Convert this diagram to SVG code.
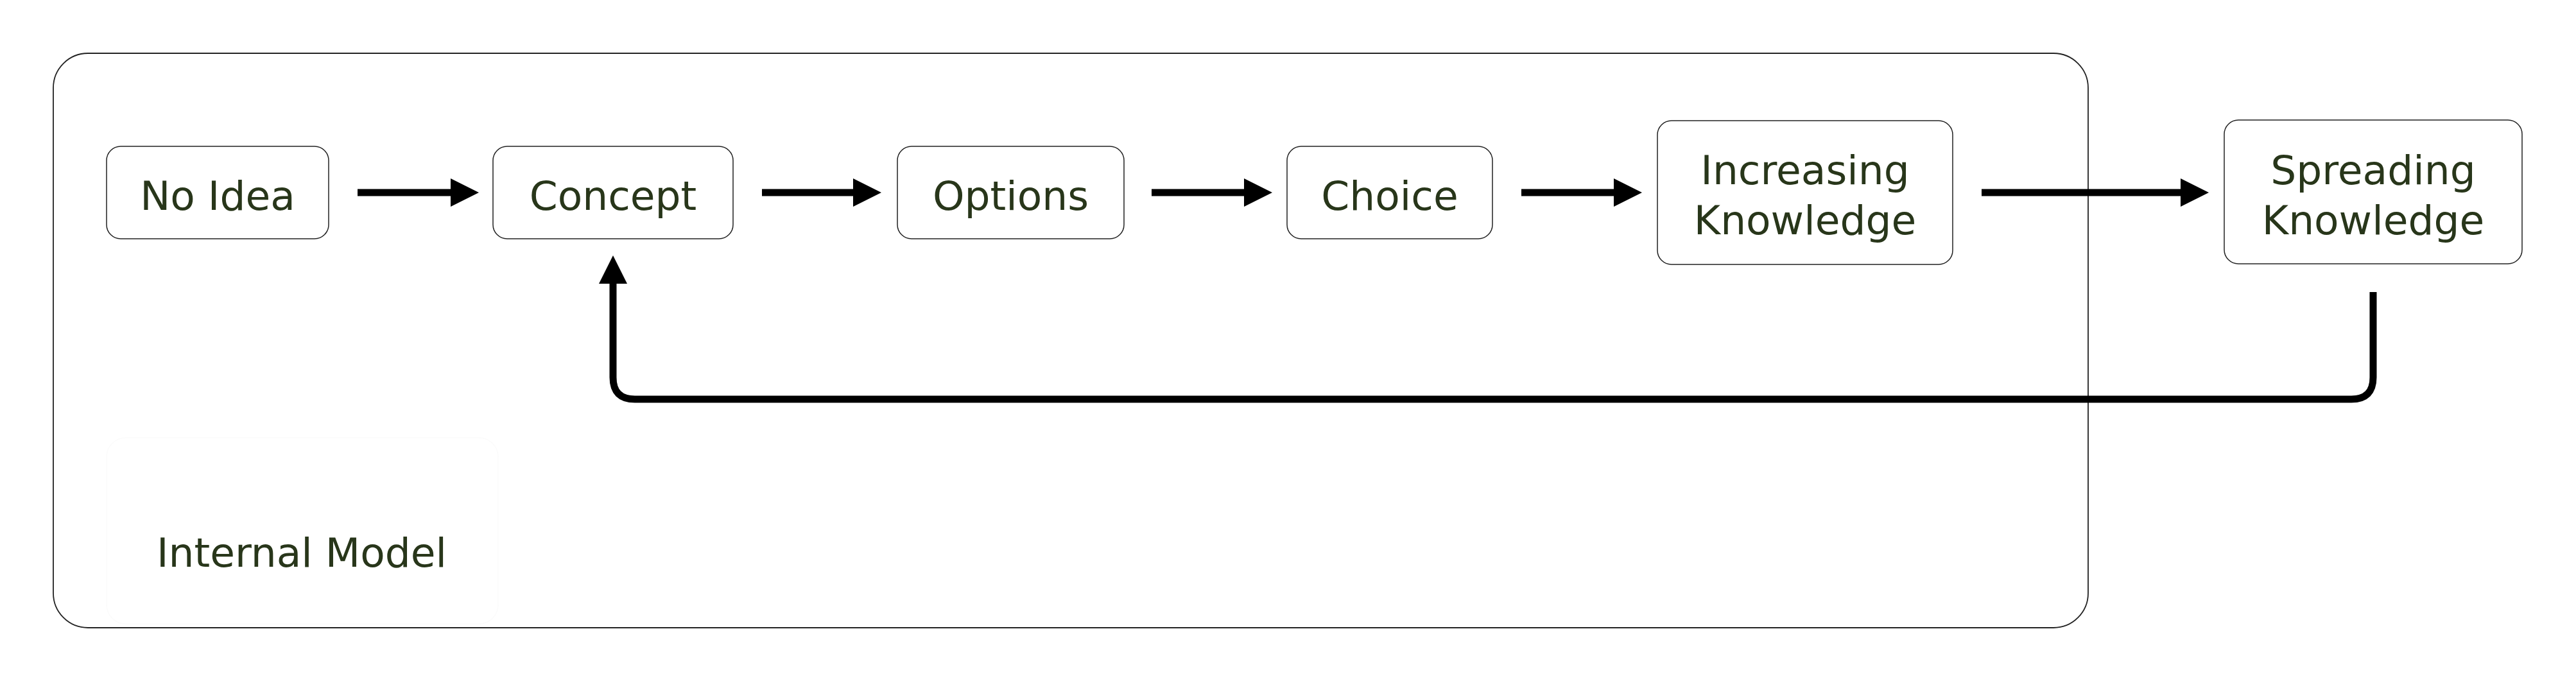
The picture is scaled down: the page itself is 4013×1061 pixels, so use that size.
<svg xmlns="http://www.w3.org/2000/svg" width="4013" height="1061" viewBox="0 0 4013 1061">
  <style>
    .box { fill: #ffffff; stroke: #222222; stroke-width: 1.5; }
    .container { fill: #ffffff; stroke: #222222; stroke-width: 1.8; }
    .lbl { font-family: "DejaVu Sans", "Liberation Sans", sans-serif; font-size: 63px; fill: #28361a; text-anchor: middle; }
    .conn { fill: none; stroke: #000000; stroke-width: 11; }
  </style>
  <defs>
    <marker id="ah" markerUnits="userSpaceOnUse" markerWidth="46" markerHeight="46" viewBox="0 -23 46 46" refX="2" refY="0" orient="auto">
      <path d="M0,-22 L44,0 L0,22 Z" fill="#000000"/>
    </marker>
  </defs>
  <rect width="4013" height="1061" fill="#ffffff"/>

  <g id="internal-model">
    <rect class="container" x="83" y="83" width="3170" height="895" rx="54" ry="54"/>
    <rect x="166" y="682" width="610" height="290" rx="30" ry="30" fill="none" stroke="#fbfbfb" stroke-width="1.5"/>
    <text class="lbl" x="470" y="883">Internal Model</text>
  </g>

  <g id="node-no-idea">
    <rect class="box" x="166" y="228" width="346" height="144" rx="22" ry="22"/>
    <text class="lbl" x="339" y="327">No Idea</text>
  </g>
  <g id="node-concept">
    <rect class="box" x="768" y="228" width="374" height="144" rx="22" ry="22"/>
    <text class="lbl" x="955" y="327">Concept</text>
  </g>
  <g id="node-options">
    <rect class="box" x="1398" y="228" width="353" height="144" rx="22" ry="22"/>
    <text class="lbl" x="1574.5" y="327">Options</text>
  </g>
  <g id="node-choice">
    <rect class="box" x="2005" y="228" width="320" height="144" rx="22" ry="22"/>
    <text class="lbl" x="2165" y="327">Choice</text>
  </g>
  <g id="node-increasing">
    <rect class="box" x="2582" y="188" width="460" height="224" rx="22" ry="22"/>
    <text class="lbl" x="2812" y="287">Increasing</text>
    <text class="lbl" x="2812" y="365">Knowledge</text>
  </g>
  <g id="node-spreading">
    <rect class="box" x="3465" y="187" width="464" height="224" rx="22" ry="22"/>
    <text class="lbl" x="3697" y="287">Spreading</text>
    <text class="lbl" x="3697" y="365">Knowledge</text>
  </g>

  <g id="connectors">
    <line class="conn" x1="557" y1="300" x2="704" y2="300" marker-end="url(#ah)"/>
    <line class="conn" x1="1187" y1="300" x2="1331" y2="300" marker-end="url(#ah)"/>
    <line class="conn" x1="1794" y1="300" x2="1940" y2="300" marker-end="url(#ah)"/>
    <line class="conn" x1="2370" y1="300" x2="2516" y2="300" marker-end="url(#ah)"/>
    <line class="conn" x1="3087" y1="300" x2="3399" y2="300" marker-end="url(#ah)"/>
    <path class="conn" d="M3697,455 V588 Q3697,622 3663,622 H989 Q955,622 955,588 V440" marker-end="url(#ah)"/>
  </g>
</svg>
